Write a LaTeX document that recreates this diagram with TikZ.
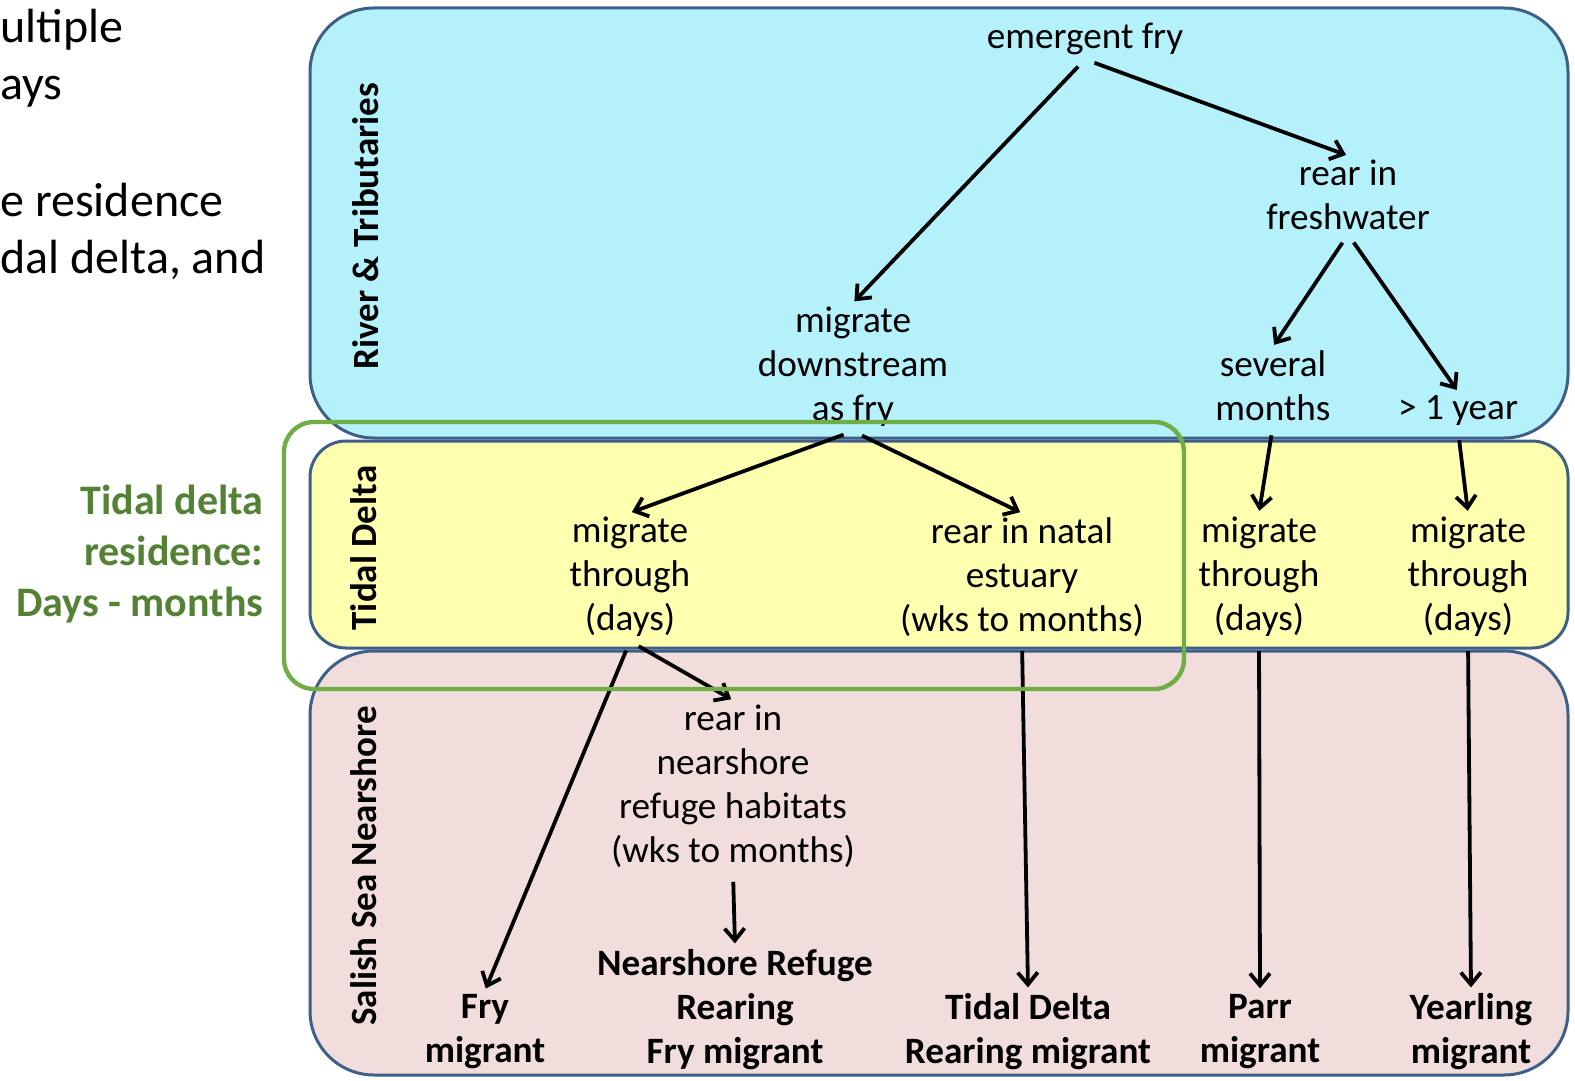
\documentclass[tikz,border=0pt]{standalone}
\usepackage{fontspec}
\setmainfont{Carlito}
\usetikzlibrary{arrows.meta}
\definecolor{riverblue}{RGB}{181,241,251}
\definecolor{deltayellow}{RGB}{255,255,176}
\definecolor{shorepink}{RGB}{242,221,221}
\definecolor{bandedge}{RGB}{62,96,136}
\definecolor{boxgreen}{RGB}{112,173,71}
\definecolor{notegreen}{RGB}{84,130,53}

\begin{document}
\begin{tikzpicture}[x=0.5pt,y=-0.5pt,
    band/.style={draw=bandedge, line width=1.5pt, rounded corners=#1},
    lbl/.style={rotate=90, font=\fontsize{18.5}{22}\selectfont\bfseries},
    txt/.style={align=center, font=\fontsize{18.6}{22}\selectfont, inner sep=2pt},
    res/.style={txt, font=\fontsize{18.6}{22}\selectfont\bfseries},
    side/.style={anchor=base west, inner sep=0pt, font=\fontsize{24}{28}\selectfont},
    arr/.style={-{Straight Barb[length=6pt,width=10pt]}, line width=1.9pt,
                shorten <=5pt, shorten >=1pt}]
        \useasboundingbox (0,0) rectangle (1575,1081);
        %draw the three habitat bands
        \draw[band=32pt, fill=riverblue] (310,8) rectangle (1568,438);
        \draw[band=18pt, fill=deltayellow] (310,441) rectangle (1568,648);
        \draw[band=32pt, fill=shorepink] (310,651) rectangle (1568,1075);
        % band names
        \node[lbl] (riv) at (366,226) {River \& Tributaries};
        \node[lbl] (tid) at (364,548) {Tidal Delta};
        \node[lbl] (sal) at (364,866) {Salish Sea Nearshore};

        % text at the left edge
        \node[side] (l1) at (0,43) {ultiple};
        \node[side] (l2) at (0,100) {ays};
        \node[side] (l3) at (0,216) {e residence};
        \node[side] (l4) at (0,273) {dal delta, and};
        \node[align=right, anchor=east, inner sep=0pt, text=notegreen,
              font=\fontsize{21}{25.5}\selectfont\bfseries] (note) at (264,554)
              {Tidal delta\\residence:\\Days - months};

        % river & tributaries
        \node[txt] (ef) at (1085,39) {emergent fry};
        \node[txt] (rf) at (1348,195) {rear in\\freshwater};
        \node[txt] (md) at (853,367) {migrate\\downstream\\as fry};
        \node[txt] (sm) at (1273,386) {several\\months};
        \node[txt] (oy) at (1458,411) {> 1 year};
        % tidal delta
        \node[txt] (mt1) at (630,577) {migrate\\through\\(days)};
        \node[txt] (rn) at (1022,577) {rear in natal\\estuary\\(wks to months)};
        \node[txt] (mt2) at (1259,577) {migrate\\through\\(days)};
        \node[txt] (mt3) at (1468,577) {migrate\\through\\(days)};
        % nearshore
        \node[txt] (rs) at (733,786) {rear in\\nearshore\\refuge habitats\\(wks to months)};
        \node[res] (nr) at (735,1010) {Nearshore Refuge\\Rearing\\Fry migrant};
        \node[res] (fm) at (485,1032) {Fry\\migrant};
        \node[res] (tr) at (1028,1032) {Tidal Delta\\Rearing migrant};
        \node[res] (pm) at (1260,1032) {Parr\\migrant};
        \node[res] (ym) at (1471,1032) {Yearling\\migrant};

        \draw[arr] (ef.south) -- (md.north);
        \draw[arr] (ef.south) -- (rf.north);
        \draw[arr] (rf.south) -- (sm.north);
        \draw[arr] (rf.south) -- (oy.north);
        \draw[arr] (md.south) -- (mt1.north);
        \draw[arr] (md.south) -- (rn.north);
        \draw[arr] (sm.south) -- (mt2.north);
        \draw[arr] (oy.south) -- (mt3.north);
        \draw[arr] (mt1.south) -- (rs.north);
        \draw[arr] (mt1.south) -- (fm.north);
        \draw[arr] (rn.south) -- (tr.north);
        \draw[arr] (mt2.south) -- (pm.north);
        \draw[arr] (mt3.south) -- (ym.north);
        \draw[arr] (rs.south) -- (nr.north);

        % tidal delta residence frame
        \draw[boxgreen, line width=2.2pt, rounded corners=15pt] (284,422) rectangle (1184,689);
\end{tikzpicture}
\end{document}
